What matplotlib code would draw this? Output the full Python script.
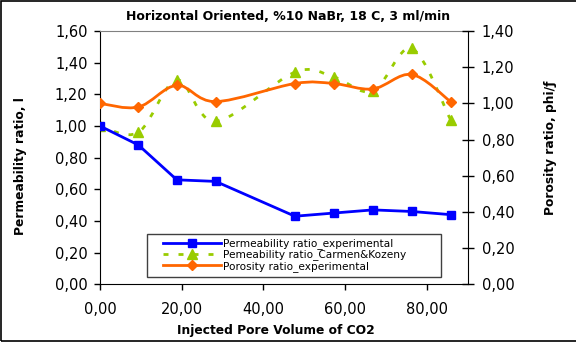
import numpy as np
import matplotlib
matplotlib.use("Agg")
import matplotlib.pyplot as plt
from matplotlib.path import Path
from matplotlib.patches import PathPatch, Rectangle
from matplotlib.lines import Line2D
from matplotlib.ticker import FuncFormatter

plt.rcParams['font.family'] = ['DejaVu Sans']

# injected pore volume of CO2
pv = [0, 9.4, 18.8, 28.3, 47.7, 57.2, 66.8, 76.3, 85.8]
perm_exp = [1.00, 0.88, 0.66, 0.65, 0.43, 0.45, 0.47, 0.46, 0.44]
perm_ck = [1.00, 0.96, 1.29, 1.03, 1.34, 1.31, 1.22, 1.49, 1.04]
poro_exp = [1.00, 0.98, 1.10, 1.01, 1.11, 1.11, 1.08, 1.16, 1.01]

labels = ["Permeability ratio_experimental",
          "Pemeability ratio_Carmen&Kozeny",
          "Porosity ratio_experimental"]

blue = "#0000FF"
green = "#99CC00"
orange = "#FF6600"
green_dash = (0, (1.8, 3.6))


def smooth_path(xs, ys):
    # excel-like smoothed line (bezier through the points)
    pts = np.column_stack([xs, ys]).astype(float)
    n = len(pts)
    verts = [pts[0]]
    codes = [Path.MOVETO]
    for i in range(n - 1):
        p0 = pts[max(i - 1, 0)]
        p1 = pts[i]
        p2 = pts[i + 1]
        p3 = pts[min(i + 2, n - 1)]
        verts += [p1 + (p2 - p0) / 6, p2 - (p3 - p1) / 6, p2]
        codes += [Path.CURVE4] * 3
    return Path(verts, codes)


comma = FuncFormatter(lambda v, p: f"{v:.2f}".replace(".", ","))

fig = plt.figure(figsize=(5.76, 3.45), dpi=100)
fig.patches.append(Rectangle((0.002, 0.012), 1.2, 0.985, transform=fig.transFigure,
                             fill=False, edgecolor="black", linewidth=1.2))

ax = fig.add_axes([0.1736, 0.176, 0.6384, 0.734])
ax2 = ax.twinx()

ax.plot(pv, perm_exp, color=blue, lw=2, marker="s", ms=5.5, zorder=3)
ax.add_patch(PathPatch(smooth_path(pv, perm_ck), facecolor="none", edgecolor=green,
                       lw=2, linestyle=green_dash, zorder=2))
ax.plot(pv, perm_ck, linestyle="none", marker="^", ms=7.5, color=green, zorder=2)

ax2.add_patch(PathPatch(smooth_path(pv, poro_exp), facecolor="none", edgecolor=orange,
                        lw=2, zorder=3))
ax2.plot(pv, poro_exp, linestyle="none", marker="D", ms=5.5, color=orange, zorder=3)

ax.set_xlim(0, 90)
ax.set_ylim(0, 1.6)
ax2.set_ylim(0, 1.4)
ax.set_xticks([0, 20, 40, 60, 80])
ax.set_yticks(np.arange(0, 1.61, 0.2))
ax2.set_yticks(np.arange(0, 1.41, 0.2))
ax.xaxis.set_major_formatter(comma)
ax.yaxis.set_major_formatter(comma)
ax2.yaxis.set_major_formatter(comma)

ax.tick_params(axis="y", direction="out", length=4.5, width=1, pad=4.5, labelsize=10.5)
ax.tick_params(axis="x", direction="out", length=4, width=1, pad=9, labelsize=10.5)
ax2.tick_params(axis="y", direction="inout", length=8, width=1, pad=6, labelsize=10.5)

ax.spines["top"].set_color("#808080")
ax.spines["right"].set_visible(False)
for s in ["top", "left", "bottom"]:
    ax2.spines[s].set_visible(False)
ax2.spines["right"].set_color("black")

fig.text(0.5, 0.952, "Horizontal Oriented, %10 NaBr, 18 C, 3 ml/min",
         ha="center", va="center", fontsize=9, fontweight="bold")
fig.text(0.479, 0.043, "Injected Pore Volume of CO2", ha="center", va="center",
         fontsize=8.8, fontweight="bold")
fig.text(0.035, 0.519, "Permeability ratio, l", rotation=90, ha="center", va="center",
         fontsize=8.8, fontweight="bold")
fig.text(0.955, 0.571, "Porosity ratio, phi/ƒ", rotation=90, ha="center", va="center",
         fontsize=8.8, fontweight="bold")

# legend box drawn separately so it can be wider than its entries
fig.patches.append(Rectangle((147 / 576, 1 - 277 / 345), (441 - 147) / 576, 43 / 345,
                             transform=fig.transFigure, facecolor="white",
                             edgecolor="#404040", linewidth=1, zorder=5))
handles = [
    Line2D([], [], color=blue, lw=2, marker="s", ms=5.5),
    Line2D([], [], color=green, lw=2, linestyle=green_dash, marker="^", ms=7.5),
    Line2D([], [], color=orange, lw=2, marker="D", ms=5.5),
]
leg = fig.legend(handles, labels, loc="center left", bbox_to_anchor=(163 / 576, 1 - 255 / 345),
                 fontsize=7.6, numpoints=1, handlelength=5.5, handletextpad=0.2,
                 labelspacing=0.02, borderpad=0, borderaxespad=0, frameon=False)
leg.set_zorder(6)

fig.savefig("out.png", dpi=100)
